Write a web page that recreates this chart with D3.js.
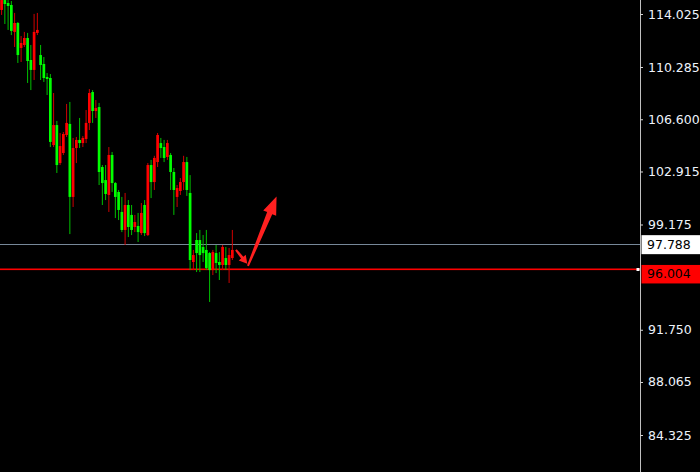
<!DOCTYPE html>
<html><head><meta charset="utf-8">
<script src="https://cdn.jsdelivr.net/npm/d3@7"></script>
<style>html,body{margin:0;padding:0;background:#000;overflow:hidden}</style>
</head><body><svg id="c" width="700" height="472"></svg>
<script>
const opens = [114.31,115.01,114.80,114.66,112.76,113.39,111.63,111.84,112.33,110.78,110.08,112.69,111.13,110.50,109.58,109.51,104.78,106.19,103.51,104.22,105.49,106.27,101.12,104.57,105.14,104.92,105.21,106.34,108.52,107.18,107.46,103.23,102.31,101.26,104.08,102.10,101.47,100.06,98.79,100.55,99.85,99.00,99.07,98.57,100.55,98.43,103.37,102.17,103.58,104.92,104.64,103.94,104.08,102.88,101.12,101.54,102.17,103.58,101.40,96.53,98.08,98.08,97.59,97.38,97.16,95.96,97.16,96.53,96.32,96.81,96.32,96.81];
const highs = [115.23,115.30,115.01,114.94,114.10,113.46,112.47,112.76,112.69,111.84,114.03,114.10,111.84,110.99,109.86,109.79,108.45,106.48,105.63,105.70,107.68,107.82,105.28,105.35,106.69,105.42,107.25,108.73,108.66,107.96,107.75,103.37,103.37,104.64,104.29,102.17,101.61,101.12,101.40,100.90,100.55,99.85,99.99,100.69,100.90,103.51,103.73,104.02,105.63,105.28,105.14,105.14,104.22,103.16,101.96,102.45,104.02,103.94,102.66,97.38,98.57,98.79,98.43,98.79,97.23,97.38,97.73,97.23,97.73,97.59,97.52,98.79];
const lows = [113.96,113.32,112.90,112.54,111.70,110.57,110.64,111.70,109.16,108.66,109.37,112.54,109.37,109.23,108.31,104.64,104.64,102.81,103.37,104.08,105.35,98.50,100.41,103.51,104.57,104.64,104.92,105.84,106.34,106.69,101.96,100.55,100.90,100.06,101.47,99.63,99.49,98.64,97.73,98.29,98.43,98.64,97.94,98.43,98.36,98.36,101.04,101.61,103.23,103.87,103.58,103.73,101.61,99.85,100.41,101.26,101.61,101.19,95.96,95.96,95.82,95.82,96.53,95.96,93.71,95.61,95.75,95.26,95.96,95.96,95.05,96.67];
const closes = [115.01,114.73,114.59,112.83,113.39,111.13,111.98,112.33,110.71,110.08,112.76,112.90,110.43,109.51,109.44,105.00,106.19,103.37,104.71,105.56,106.34,101.12,104.57,105.14,104.92,105.28,106.34,108.45,107.18,107.39,102.88,102.10,101.33,104.08,102.10,101.12,100.20,98.79,100.55,99.00,98.79,99.35,98.64,99.99,98.57,103.37,102.17,103.87,105.49,104.57,103.87,104.92,102.88,101.61,101.75,102.17,103.58,101.61,96.67,97.02,97.16,97.02,97.16,96.10,95.96,97.23,96.46,96.32,97.59,96.32,97.02,97.38];
const tickValues = [114.025,110.285,106.600,102.915,99.175,91.750,88.065,84.325];
const bidPrice = 97.788;
const linePrice = 96.004;
// arrows in [bar index, price]
const arrowFrom = [[72.1,97.38],[75.8,96.25]];
const arrowTo = [[75.6,96.40],[84.6,101.15]];
const arrowKind = ["small","big"];

const svg = d3.select("#c");
const W = 700, H = 472, plotRight = 640;
svg.append("rect").attr("width",W).attr("height",H).attr("fill","#000");

const x = d3.scaleLinear().domain([0,1]).range([1.6,1.6+3.25]);
const y = d3.scaleLinear().domain([84.325,114.025]).range([435,14]);

svg.append("defs").append("clipPath").attr("id","pc")
  .append("rect").attr("x",0).attr("y",0).attr("width",plotRight).attr("height",H);

const plot = svg.append("g").attr("clip-path","url(#pc)");

// horizontal lines
plot.append("rect").attr("x",0).attr("width",plotRight)
  .attr("y",Math.round(y(bidPrice))).attr("height",1)
  .attr("fill","#778899");
plot.append("rect").attr("x",0).attr("width",plotRight)
  .attr("y",Math.round(y(linePrice))-0.5).attr("height",1.6)
  .attr("fill","#ff0000");

const data = opens.map((o,i)=>({i,o,h:highs[i],l:lows[i],c:closes[i]}));
const up = d=>d.c>=d.o;

plot.selectAll("line.wick").data(data).enter().append("line")
  .attr("class","wick")
  .attr("x1",d=>x(d.i)).attr("x2",d=>x(d.i))
  .attr("y1",d=>y(d.h)).attr("y2",d=>y(d.l))
  .attr("stroke",d=>up(d)?"#d00000":"#00c000").attr("stroke-width",1);

const bw = 2.7;
plot.selectAll("rect.body").data(data).enter().append("rect")
  .attr("class","body")
  .attr("x",d=>x(d.i)-bw/2).attr("width",bw)
  .attr("y",d=>y(Math.max(d.o,d.c)))
  .attr("height",d=>Math.max(1,Math.abs(y(d.o)-y(d.c))))
  .attr("fill",d=>up(d)?"#ff0000":"#00ff00");

// arrows
function arrowPoly(s,t,kind){
  const dx=t[0]-s[0], dy=t[1]-s[1], L=Math.hypot(dx,dy);
  const ux=dx/L, uy=dy/L, nx=-uy, ny=ux;
  const hl = kind==="big"?18:8, hw = kind==="big"?14:9;
  const w0 = kind==="big"?2:2, w1 = kind==="big"?5.5:3;
  const bx=t[0]-ux*hl, by=t[1]-uy*hl;
  const pts=[
    [s[0]+nx*w0/2,s[1]+ny*w0/2],[bx+nx*w1/2,by+ny*w1/2],[bx+nx*hw/2,by+ny*hw/2],
    [t[0],t[1]],[bx-nx*hw/2,by-ny*hw/2],[bx-nx*w1/2,by-ny*w1/2],[s[0]-nx*w0/2,s[1]-ny*w0/2]];
  return pts.map(p=>p.join(",")).join(" ");
}
plot.selectAll("polygon.arrow").data(arrowKind).enter().append("polygon")
  .attr("class","arrow")
  .attr("points",(k,i)=>arrowPoly([x(arrowFrom[i][0]),y(arrowFrom[i][1])],[x(arrowTo[i][0]),y(arrowTo[i][1])],k))
  .attr("fill","#ff2020");

// marker on red line
svg.append("rect").attr("x",plotRight-3.5).attr("y",Math.round(y(linePrice))-1)
  .attr("width",3).attr("height",3).attr("fill","#ffffff");

// axis
svg.append("line").attr("x1",plotRight+0.5).attr("x2",plotRight+0.5).attr("y1",0).attr("y2",H)
  .attr("stroke","#c0c0c0").attr("stroke-width",1);
const ax = svg.append("g").attr("transform",`translate(${plotRight},0)`)
  .call(d3.axisRight(y).tickValues(tickValues).tickFormat(d3.format(".3f")).tickSize(3).tickSizeOuter(0).tickPadding(5));
ax.select(".domain").remove();
ax.selectAll(".tick line").attr("stroke","#d0d0d0");
ax.selectAll(".tick text").attr("fill","#eef3fb").style("font-family","'DejaVu Sans'").style("font-size","12.5px");

// price labels
const fontF = "'DejaVu Sans'";
const by = y(bidPrice);
svg.append("rect").attr("x",plotRight+1.5).attr("y",by-9).attr("width",60).attr("height",19).attr("fill","#ffffff");
svg.append("text").attr("x",plotRight+7).attr("y",by).attr("dy","0.36em").text(d3.format(".3f")(bidPrice))
  .attr("fill","#000").style("font-family",fontF).style("font-size","12.5px");
const ly = y(linePrice);
svg.append("rect").attr("x",plotRight+1.5).attr("y",ly-4.5).attr("width",60).attr("height",18.5).attr("fill","#ff0000");
svg.append("text").attr("x",plotRight+7).attr("y",ly+4.5).attr("dy","0.36em").text(d3.format(".3f")(linePrice))
  .attr("fill","#000").style("font-family",fontF).style("font-size","12.5px");
</script></body></html>
